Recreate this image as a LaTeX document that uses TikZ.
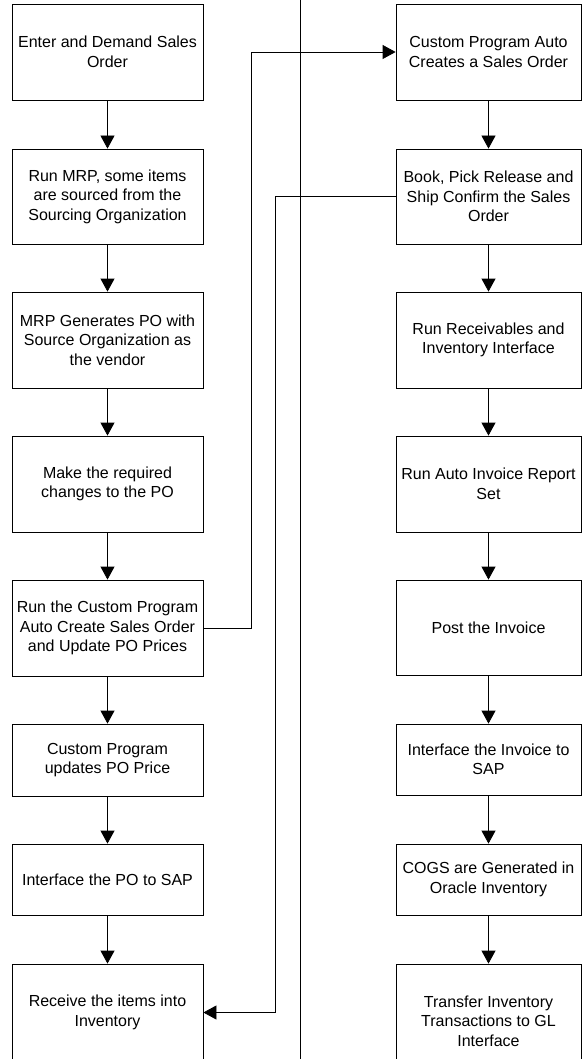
\documentclass[tikz,border=0pt]{standalone}
\usepackage{fontspec}
\setmainfont{Liberation Sans}
\usetikzlibrary{arrows.meta}
\tikzset{
  box/.style={draw, line width=0.8pt, align=center, inner sep=0pt,
    font=\fontsize{16}{19.5}\selectfont},
  lbox/.style={box, minimum width=191pt},
  rbox/.style={box, minimum width=185pt},
  arr/.style={-{Triangle[length=13pt,width=14pt]}, line width=0.8pt},
  plain/.style={line width=0.8pt}
}
\begin{document}
\begin{tikzpicture}[x=1pt,y=-1pt]
\useasboundingbox (0,0) rectangle (582,1059);
% left column
\node[lbox, minimum height=96pt] (L1) at (107.5,52) {Enter and Demand Sales\\Order};
\node[lbox, minimum height=95pt] (L2) at (107.5,196.5) {Run MRP, some items\\are sourced from the\\Sourcing Organization};
\node[lbox, minimum height=96pt] (L3) at (107.5,340) {MRP Generates PO with\\Source Organization as\\the vendor};
\node[lbox, minimum height=96pt] (L4) at (107.5,484) {Make the required\\changes to the PO};
\node[lbox, minimum height=96pt] (L5) at (107.5,628) {Run the Custom Program\\Auto Create Sales Order\\and Update PO Prices};
\node[lbox, minimum height=72pt] (L6) at (107.5,760) {Custom Program\\updates PO Price};
\node[lbox, minimum height=71pt] (L7) at (107.5,879.5) {Interface the PO to SAP};
\node[lbox, minimum height=97pt] (L8) at (107.5,1012.5) {Receive the items into\\Inventory};
% right column
\node[rbox, minimum height=96pt] (R1) at (488.5,52) {Custom Program Auto\\Creates a Sales Order};
\node[rbox, minimum height=95pt] (R2) at (488.5,196.5) {Book, Pick Release and\\Ship Confirm the Sales\\Order};
\node[rbox, minimum height=96pt] (R3) at (488.5,340) {Run Receivables and\\Inventory Interface};
\node[rbox, minimum height=96pt] (R4) at (488.5,484) {Run Auto Invoice Report\\Set};
\node[rbox, minimum height=95pt] (R5) at (488.5,627.5) {Post the Invoice};
\node[rbox, minimum height=71pt] (R6) at (488.5,759.5) {Interface the Invoice to\\SAP};
\node[rbox, minimum height=71pt] (R7) at (488.5,879.5) {COGS are Generated in\\Oracle Inventory};
\node[rbox, minimum height=114pt] (R8) at (488.5,1021) {Transfer Inventory\\Transactions to GL\\Interface};
% vertical arrows
\foreach \a/\b in {L1/L2,L2/L3,L3/L4,L4/L5,L5/L6,L6/L7,L7/L8,R1/R2,R2/R3,R3/R4,R4/R5,R5/R6,R6/R7,R7/R8}
  \draw[arr] (\a.south) -- (\b.north);
% divider
\coordinate (dt) at (300,0);
\coordinate (db) at (300,1059);
\draw[plain] (dt) -- (db);
% cross connectors
\coordinate (j1) at (251,0);
\draw[arr] (L5.east) -- (L5.east -| j1) -- (j1 |- R1.west) -- (R1.west);
\coordinate (j2) at (275,0);
\draw[arr] (R2.west) -- (R2.west -| j2) -- (j2 |- L8.east) -- (L8.east);
\end{tikzpicture}
\end{document}
